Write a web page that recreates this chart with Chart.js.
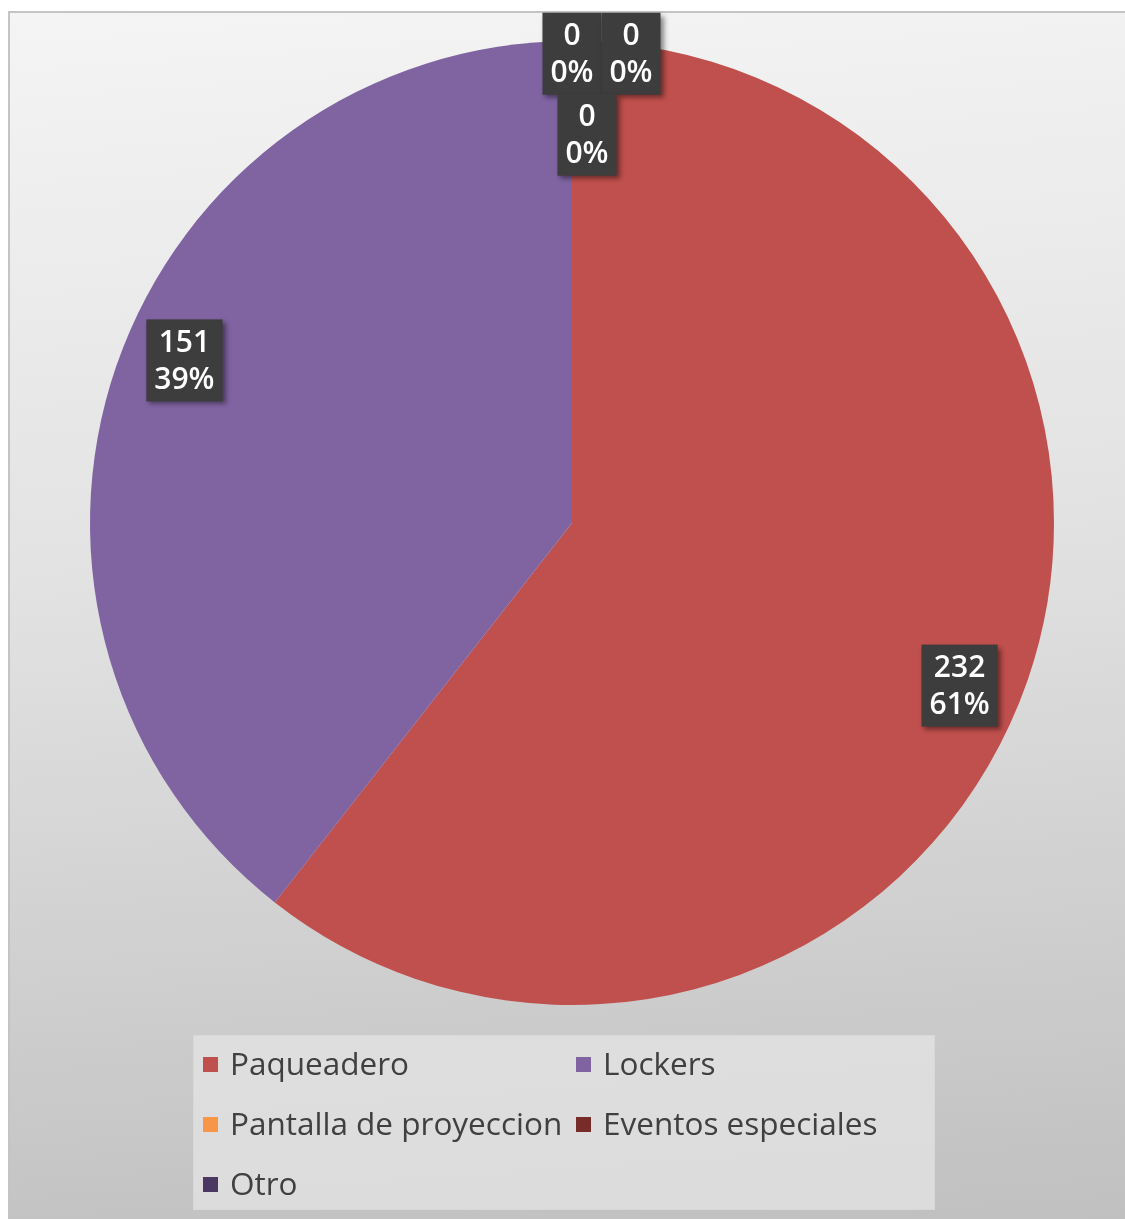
<!DOCTYPE html>
<html>
<head>
<meta charset="utf-8">
<script src="https://cdn.jsdelivr.net/npm/chart.js@4"></script>
<style>
  html, body { margin: 0; padding: 0; background: #fff; }
  body { width: 1125px; height: 1219px; position: relative; overflow: hidden; font-family: "Open Sans", Lato, sans-serif; }
  #frame {
    position: absolute; left: 8px; top: 11px; width: 1117px; height: 1208px;
    box-sizing: border-box; border-top: 2px solid #c4c4c4; border-left: 2px solid #c4c4c4;
    background: linear-gradient(176deg, #f4f4f4 0%, #e2e2e2 45%, #c0c0c0 100%);
  }
  #pie { position: absolute; left: 0; top: 0; }
  #legend {
    position: absolute; left: 193px; top: 1035px; width: 742px; height: 175px;
    box-sizing: border-box; background: rgba(228, 228, 228, 0.75); border: 1px solid #d8d8d8;
    display: grid; grid-template-columns: 374px 1fr; grid-auto-rows: 60px;
  }
  .item { display: flex; align-items: center; font-size: 31.5px; color: #404040; padding-left: 9px; white-space: nowrap; margin-top: -7px; }
  .item:nth-child(2n) { padding-left: 8px; }
  .item .sw { width: 15px; height: 15px; margin-right: 12px; flex: none; margin-top: 4px; }
</style>
</head>
<body>
<div id="frame"></div>
<canvas id="pie" width="1125" height="1219"></canvas>
<div id="legend"></div>
<script>
const categories = ["Paqueadero", "Lockers", "Pantalla de proyeccion", "Eventos especiales", "Otro"];
const counts = [232, 151, 0, 0, 0];
const sliceColors = ["#C0504D", "#8064A2", "#F79646", "#772C2A", "#4B3862"];

// label nudges for the zero slices so they do not sit on top of each other
const labelNudge = { 2: [0, -49], 3: [59, -49], 4: [15, 32] };

const total = counts.reduce((a, b) => a + b, 0);

const dataLabels = {
  id: "dataLabels",
  afterDatasetsDraw(chart) {
    const ctx = chart.ctx;
    const meta = chart.getDatasetMeta(0);
    ctx.save();
    ctx.font = "600 30px 'Open Sans', Lato, sans-serif";
    ctx.textAlign = "center";
    ctx.textBaseline = "middle";
    meta.data.forEach((arc, i) => {
      const p = arc.getProps(["x", "y", "startAngle", "endAngle", "outerRadius"], true);
      // excel puts these a little past the slice middle
      const mid = (p.startAngle + p.endAngle) / 2 + (counts[i] ? 0.065 : 0);
      const r = p.outerRadius * 0.872;
      let cx = p.x + Math.cos(mid) * r;
      let cy = p.y + Math.sin(mid) * r;
      if (labelNudge[i]) {
        cx += labelNudge[i][0];
        cy += labelNudge[i][1];
      }
      const line1 = String(counts[i]);
      const line2 = Math.round(counts[i] / total * 100) + "%";
      const w = Math.max(ctx.measureText(line1).width, ctx.measureText(line2).width) + 16;
      const h = 82;
      ctx.save();
      ctx.shadowColor = "rgba(0,0,0,0.45)";
      ctx.shadowBlur = 5;
      ctx.shadowOffsetX = 3;
      ctx.shadowOffsetY = 3;
      ctx.fillStyle = "#3d3d3d";
      ctx.fillRect(cx - w / 2, cy - h / 2, w, h);
      ctx.restore();
      ctx.fillStyle = "#ffffff";
      ctx.fillText(line1, cx, cy - 17);
      ctx.fillText(line2, cx, cy + 20);
    });
    ctx.restore();
  }
};

new Chart(document.getElementById("pie"), {
  type: "pie",
  data: {
    labels: categories,
    datasets: [{
      data: counts,
      backgroundColor: sliceColors,
      borderWidth: 0
    }]
  },
  options: {
    responsive: false,
    animation: false,
    layout: { padding: { left: 90, right: 71, top: 41, bottom: 214 } },
    plugins: {
      legend: { display: false },
      tooltip: { enabled: false }
    }
  },
  plugins: [dataLabels]
});

const legend = document.getElementById("legend");
categories.forEach((name, i) => {
  const item = document.createElement("div");
  item.className = "item";
  item.innerHTML = `<span class="sw" style="background:${sliceColors[i]}"></span><span>${name}</span>`;
  legend.appendChild(item);
});
</script>
</body>
</html>
